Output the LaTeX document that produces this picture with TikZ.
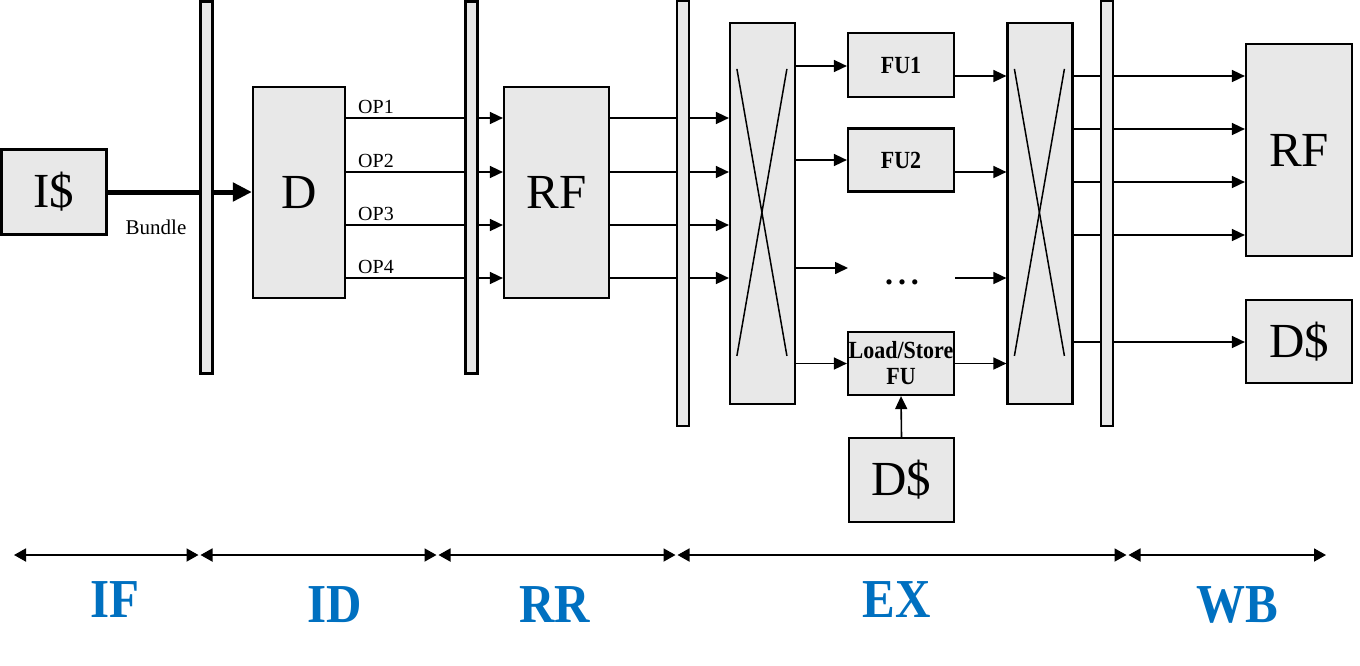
\documentclass[tikz,border=0pt]{standalone}
\usepackage{fontspec}
\setmainfont{Liberation Serif}
\usetikzlibrary{arrows.meta,backgrounds,calc}
\definecolor{boxgray}{HTML}{E8E8E8}
\definecolor{stageblue}{HTML}{0070C0}
\begin{document}
\begin{tikzpicture}[x=1pt,y=-1pt,
  blk/.style={draw, line width=2.2pt, fill=boxgray, inner sep=0pt},
  reg/.style={blk, minimum width=12pt},
  bigtext/.style={font=\fontsize{49}{50}\selectfont},
  fulabel/.style={font=\fontsize{22}{26}\selectfont\bfseries, align=center},
  oplabel/.style={anchor=base, font=\fontsize{20}{22}\selectfont},
  conn/.style={line width=1.6pt, -{Triangle[length=13pt,width=12pt]}},
  xline/.style={line width=1.5pt},
  stg/.style={line width=1.8pt, {Triangle[length=12pt,width=13pt]}-{Triangle[length=12pt,width=13pt]}},
  stage/.style={text=stageblue, font=\fontsize{49}{52}\selectfont\bfseries}
]
\useasboundingbox (0,0) rectangle (1360,665);

% boxes
\node[blk, bigtext, minimum width=105pt, minimum height=85pt] (is) at (54,192) {I\$};
\node[reg, minimum height=372pt] (reg1) at (206.5,187.5) {};
\node[blk, bigtext, minimum width=92pt, minimum height=211pt] (d) at (299,192.5) {D};
\node[reg, minimum height=372pt] (reg2) at (471.5,187.5) {};
\node[blk, bigtext, minimum width=105pt, minimum height=211pt] (rf1) at (556.5,192.5) {RF};
\node[reg, minimum height=425pt] (reg3) at (683,213.5) {};
\node[blk, minimum width=65pt, minimum height=381pt] (xb1) at (762.5,213.5) {};
\node[blk, fulabel, minimum width=106pt, minimum height=64pt] (fu1) at (901,65) {\scalebox{1}[1.12]{FU1}};
\node[blk, fulabel, minimum width=106pt, minimum height=63pt] (fu2) at (901,160) {\scalebox{1}[1.12]{FU2}};
\node[font=\fontsize{32}{34}\selectfont\bfseries, anchor=base] (dots) at (902,284) {.\hspace{5pt}.\hspace{5pt}.};
\node[blk, fulabel, minimum width=106pt, minimum height=63pt] (ls) at (901,363.5) {\scalebox{1}[1.12]{Load/Store}\\\scalebox{1}[1.12]{FU}};
\node[blk, bigtext, minimum width=105pt, minimum height=84pt] (dc1) at (901.5,480) {D\$};
\node[blk, minimum width=65pt, minimum height=381pt] (xb2) at (1040,213.5) {};
\node[reg, minimum height=425pt] (reg4) at (1107,213.5) {};
\node[blk, bigtext, minimum width=106pt, minimum height=212pt] (rf2) at (1299,150) {RF};
\node[blk, bigtext, minimum width=106pt, minimum height=83pt] (dc2) at (1299,341.5) {D\$};

% crossbar X marks
\draw[xline] ($(xb1.north west)+(8,47)$) -- ($(xb1.north west)+(58,334)$);
\draw[xline] ($(xb1.north west)+(58,47)$) -- ($(xb1.north west)+(8,334)$);
\draw[xline] ($(xb2.north west)+(8,47)$) -- ($(xb2.north west)+(58,334)$);
\draw[xline] ($(xb2.north west)+(58,47)$) -- ($(xb2.north west)+(8,334)$);

% labels
\node[font=\fontsize{21}{23}\selectfont] (bundle) at (156,227) {Bundle};
\node[oplabel] (op1) at (376,113) {OP1};
\node[oplabel] (op2) at (376,167) {OP2};
\node[oplabel] (op3) at (376,220) {OP3};
\node[oplabel] (op4) at (376,273) {OP4};

\coordinate (din) at (848,268);
\coordinate (dout) at (955,278);

% connectors (behind registers)
\begin{scope}[on background layer]
\draw[line width=5pt, -{Triangle[length=19pt,width=18pt]}] (is.east) -- (is.east -| d.west);
\foreach \y in {118,172,225,278}{
  \draw[conn] (d.east |- 0,\y) -- (rf1.west |- 0,\y);
  \draw[conn] (rf1.east |- 0,\y) -- (xb1.west |- 0,\y);
}
\draw[conn] (xb1.east |- 0,66) -- (fu1.west |- 0,66);
\draw[conn] (xb1.east |- fu2.west) -- (fu2.west);
\draw[conn] (xb1.east |- din) -- (din);
\draw[conn] (xb1.east |- ls.west) -- (ls.west);
\draw[conn] (fu1.east |- 0,76) -- (xb2.west |- 0,76);
\draw[conn] (fu2.east |- 0,172) -- (xb2.west |- 0,172);
\draw[conn] (dout) -- (xb2.west |- dout);
\draw[conn] (ls.east) -- (xb2.west |- ls.east);
\foreach \y in {76,129,182,235}{
  \draw[conn] (xb2.east |- 0,\y) -- (rf2.west |- 0,\y);
}
\draw[conn] (xb2.east |- 0,342) -- (dc2.west |- 0,342);
\end{scope}
\draw[conn] (dc1.north) -- (ls.south);

% stage arrows
\coordinate (p0) at (14,555);
\coordinate (p1) at (199.5,555);
\coordinate (p2) at (437.5,555);
\coordinate (p3) at (676.5,555);
\coordinate (p4) at (1127.5,555);
\coordinate (p5) at (1326,555);
\draw[stg, shorten >=1pt] (p0) -- (p1);
\draw[stg, shorten <=1pt, shorten >=1pt] (p1) -- (p2);
\draw[stg, shorten <=1pt, shorten >=1pt] (p2) -- (p3);
\draw[stg, shorten <=1pt, shorten >=1pt] (p3) -- (p4);
\draw[stg, shorten <=1pt] (p4) -- (p5);

\node[stage] (sif) at (115,600) {\scalebox{1}[1.12]{IF}};
\node[stage] (sid) at (335,605) {\scalebox{1}[1.12]{ID}};
\node[stage] (srr) at (555,605) {\scalebox{1}[1.12]{RR}};
\node[stage] (sex) at (897,600) {\scalebox{1}[1.12]{EX}};
\node[stage] (swb) at (1237,605) {\scalebox{1}[1.12]{WB}};
\end{tikzpicture}
\end{document}
